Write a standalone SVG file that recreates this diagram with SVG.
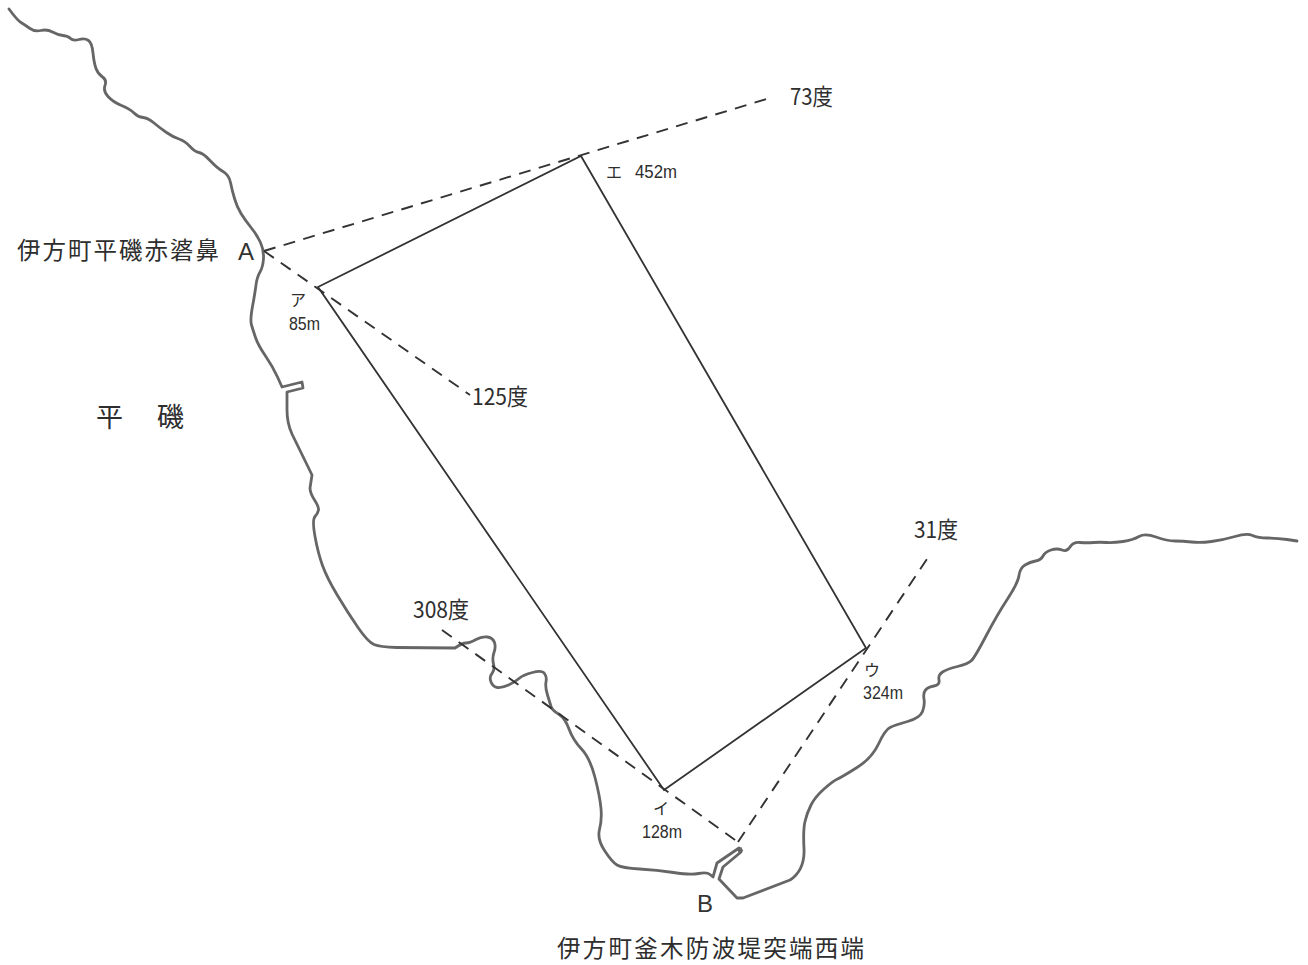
<svg xmlns="http://www.w3.org/2000/svg" width="1308" height="965" viewBox="0 0 1308 965">
<style>
.coast{fill:none;stroke:#666;stroke-width:2.8;stroke-linejoin:round;stroke-linecap:round}
.area{fill:none;stroke:#333;stroke-width:1.8;stroke-linejoin:miter}
.dash{fill:none;stroke:#333;stroke-width:1.9;stroke-dasharray:12 8.5}
.cjk{font-family:"Noto Sans CJK JP","Noto Sans",sans-serif;fill:#2e2e2e;font-weight:400}
.big{font-size:23.5px}
.mid{font-size:23px}
.kana{font-size:16px}
.num{font-family:"Liberation Sans",sans-serif;fill:#2e2e2e;font-size:18px}
.ltr{font-family:"Liberation Sans",sans-serif;fill:#333;font-size:24px}
</style>
<rect width="1308" height="965" fill="#fff"/>
<g id="coast-west">
<path class="coast" d="M9,9 Q17,20 21,22.5 Q25,25 30,28.5 Q35,32 41,30.5 Q47,29 52.5,32 Q58,35 63,35.5 Q68,36 70.5,38.5 Q73,41 79,39.5 Q85,38 88.5,40.5 Q92,43 93,53 Q94,63 96,68.5 Q98,74 102.5,77 Q107,80 105,85.5 Q103,91 108,96.5 Q113,102 121.5,105.5 Q130,109 134,113 Q138,117 143,117.5 Q148,118 154,123 Q160,128 166.5,132.5 Q173,137 179,139 Q185,141 190,146.5 Q195,152 199,152.5 Q203,153 210,160.5 Q217,168 223,171.5 Q229,175 230.5,182.5 Q232,190 234.5,198.5 Q237,207 241,213.5 Q245,220 251,227.5 Q257,235 260.5,242.5 Q264,250 263.5,258.5 Q263,267 260,272 Q257,277 256,285 Q255,293 252.5,306.5 Q250,320 251.5,325 Q253,330 255.5,337.5 Q258,345 265.5,356 Q273,367 277.5,377 L282,387 L302,382 L303,388 L287,392 L287,410 Q287,423 292,434 L312,475 L310,488 Q310,493 314.5,500 Q319,507 318.5,510 Q318,513 315,516.5 Q312,520 315,536.5 Q318,553 322.5,565.5 Q327,578 337.5,595.5 Q348,613 358,627.5 Q368,642 374,644.5 Q380,647 396.5,647.5 L455,648 Q462,643 466,643 Q470,643 476,639.5 Q482,636 487.5,637 Q493,638 494.5,642.5 Q496,647 494,652.5 Q492,658 493.5,664 Q495,670 492,673.5 Q489,677 491,682 Q493,687 497.5,687.5 Q502,688 508.5,685 Q515,682 519,678.5 Q523,675 532.5,672.5 Q542,670 544.5,673.5 Q547,677 546,682 Q545,687 547.5,695 Q550,703 551,706.5 Q552,710 558.5,714 Q565,718 569,729 Q573,740 581.5,749 Q590,758 595,777.5 Q600,797 601,808.5 Q602,820 599.5,829.5 Q597,839 604.5,850.5 Q612,862 617,865 Q622,868 639.5,869 Q657,870 673.5,872.5 Q690,875 698.5,873.5 Q707,872 710,874.5 L713,877 L717,863 L739,848 L741,852 L723,867 L719,879 L737,898 L743,898 L790,880 Q805,870 804,848.5 Q803,830 805,821.5 Q807,813 811,805 Q815,797 824,789 Q833,781 837.5,779 Q842,777 857,767.5 Q872,758 878.5,744 Q885,730 890,727.5 Q895,725 907.5,721.5 Q920,718 922.5,711.5 Q925,705 924,699 Q923,693 925.5,690 Q928,687 934,686 Q940,685 939,680 Q938,675 942.5,672 Q947,669 957.5,666.5 Q968,664 971.5,660.5 Q975,657 986,636 Q997,615 1007.5,599 Q1018,583 1019,575.5 Q1020,568 1025,565 Q1030,562 1035.5,561 Q1041,560 1043,556 Q1045,552 1051,550 Q1057,548 1062,550 Q1067,552 1070,547 Q1073,542 1080,542.5 Q1087,543 1093.5,542.5 Q1100,542 1106.5,542.5 Q1113,543 1123,541.5 Q1133,540 1139,536.5 Q1145,533 1156,537 Q1167,541 1175,541 Q1183,541 1191.5,542 Q1200,543 1211.5,541.5 Q1223,540 1235,536.5 Q1247,533 1252.5,535.5 Q1258,538 1267.5,538 Q1277,538 1287,539.5 L1297,541"/>
<path d="M739,848 L741,852" fill="none" stroke="#666" stroke-width="5"/>
</g>
<g id="connectors">
<line class="dash" x1="264" y1="251" x2="770" y2="98"/>
<line class="dash" x1="264" y1="251" x2="470" y2="395"/>
<line class="dash" x1="442" y1="630" x2="738" y2="842"/>
<line class="dash" x1="738" y1="842" x2="931" y2="553"/>
</g>
<g id="area">
<polygon class="area" points="318,287 581,156 866,648 664,790"/>
</g>
<g id="label-a">
<text class="cjk big" x="17" y="259" textLength="202" lengthAdjust="spacing">伊方町平磯赤碆鼻</text>
<text class="ltr" x="238" y="260">A</text>
</g>
<g id="label-hiraiso">
<text class="cjk" style="font-size:27px" x="96" y="427">平</text>
<text class="cjk" style="font-size:27px" x="157" y="427">磯</text>
</g>
<g id="label-b">
<text class="ltr" x="697" y="912">B</text>
<text class="cjk big" x="557" y="957" textLength="307" lengthAdjust="spacing">伊方町釜木防波堤突端西端</text>
</g>
<g id="label-bearings">
<text class="cjk mid" x="790" y="105" textLength="43" lengthAdjust="spacingAndGlyphs">73度</text>
<text class="cjk mid" x="472" y="405" textLength="56" lengthAdjust="spacingAndGlyphs">125度</text>
<text class="cjk mid" x="413" y="618" textLength="56" lengthAdjust="spacingAndGlyphs">308度</text>
<text class="cjk mid" x="914" y="538" textLength="44" lengthAdjust="spacingAndGlyphs">31度</text>
</g>
<g id="point-a">
<text class="cjk kana" x="290" y="306">ア</text>
<text class="num" x="289" y="330" textLength="31" lengthAdjust="spacingAndGlyphs">85m</text>
</g>
<g id="point-i">
<text class="cjk kana" x="653" y="814">イ</text>
<text class="num" x="642" y="838" textLength="40" lengthAdjust="spacingAndGlyphs">128m</text>
</g>
<g id="point-u">
<text class="cjk kana" x="864" y="676">ウ</text>
<text class="num" x="863" y="699" textLength="40" lengthAdjust="spacingAndGlyphs">324m</text>
</g>
<g id="point-e">
<text class="cjk kana" x="606" y="178">エ</text>
<text class="num" x="635" y="178" textLength="42" lengthAdjust="spacingAndGlyphs">452m</text>
</g>
</svg>
